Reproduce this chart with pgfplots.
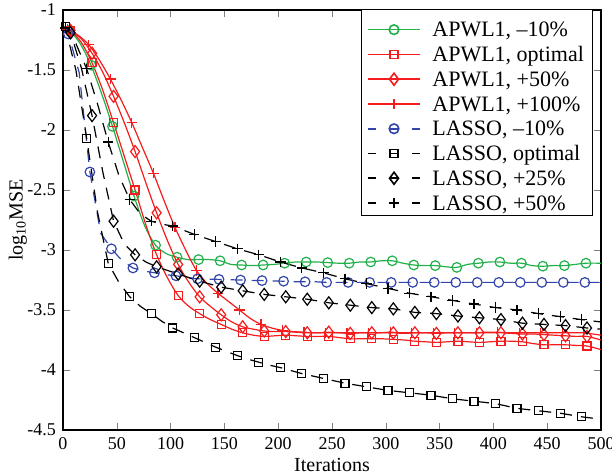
\documentclass[border=0pt]{standalone}
\usepackage{fontspec}
\setmainfont{Liberation Serif}
\usepackage{pgfplots}
\pgfplotsset{compat=1.18}
\usetikzlibrary{calc}
\definecolor{Grn}{HTML}{22B04A}
\definecolor{Rd}{HTML}{F41C1C}
\definecolor{Blu}{HTML}{3344AA}

\begin{document}
\begin{tikzpicture}
  \begin{axis}[
      name=main,
      scale only axis,
      width=269pt,
      height=210pt,
      xmin=0, xmax=500,
      ymin=-4.5, ymax=-1,
      xtick={0,50,...,500},
      ytick={-4.5,-4,-3.5,-3,-2.5,-2,-1.5,-1},
      yticklabels={-4.5,-4,-3.5,-3,-2.5,-2,-1.5,-1},
      /pgf/number format/assume math mode=true,
      tick label style={font=\fontsize{9}{10}\selectfont},
      label style={font=\fontsize{9}{10}\selectfont},
      major tick length=3.5pt,
      axis line style={line width=0.6pt},
      xlabel={Iterations},
      ylabel={log\textsubscript{10}MSE},
      every axis x label/.style={at={(axis description cs:0.5,-0.083)},anchor=center},
      every axis y label/.style={at={(axis description cs:-0.084,0.5)},anchor=center,rotate=90},
      every axis plot/.append style={line width=0.6pt, mark repeat=2, mark phase=2},
    ]
    % APWL1, -10%
    \addplot[color=Grn, smooth, mark=o, mark size=2.4pt] coordinates {
      (0,-1.15) (6,-1.17) (16,-1.28) (26,-1.46) (36,-1.70) (46,-1.97) (56,-2.26) (66,-2.55)
      (76,-2.80) (86,-2.96) (96,-3.03) (106,-3.06) (116,-3.08) (126,-3.08) (136,-3.08)
      (146,-3.09) (156,-3.12) (166,-3.125) (176,-3.13) (186,-3.125) (196,-3.12) (206,-3.11)
      (216,-3.10) (226,-3.10) (236,-3.10) (246,-3.105) (256,-3.11) (266,-3.11) (276,-3.10)
      (286,-3.10) (296,-3.09) (306,-3.09) (316,-3.11) (326,-3.125) (336,-3.13) (346,-3.13)
      (356,-3.14) (366,-3.145) (376,-3.12) (386,-3.11) (396,-3.10) (406,-3.10) (416,-3.11)
      (426,-3.11) (436,-3.13) (446,-3.135) (456,-3.13) (466,-3.13) (476,-3.12) (486,-3.11)
      (500,-3.11)
    };
    % APWL1, optimal
    \addplot[color=Rd, smooth, mark=square, mark size=2pt] coordinates {
      (0,-1.15) (7,-1.17) (17,-1.27) (27,-1.44) (37,-1.67) (47,-1.94) (57,-2.22) (67,-2.50)
      (77,-2.79) (87,-3.04) (97,-3.23) (107,-3.38) (117,-3.47) (127,-3.53) (137,-3.58)
      (147,-3.62) (157,-3.66) (167,-3.69) (177,-3.71) (187,-3.72) (197,-3.715) (207,-3.71)
      (217,-3.715) (227,-3.72) (237,-3.72) (247,-3.72) (257,-3.73) (267,-3.74) (277,-3.74)
      (287,-3.74) (297,-3.74) (307,-3.745) (317,-3.75) (327,-3.76) (337,-3.765) (347,-3.77)
      (357,-3.765) (367,-3.76) (377,-3.765) (387,-3.77) (397,-3.765) (407,-3.76) (417,-3.76)
      (427,-3.765) (437,-3.78) (447,-3.79) (457,-3.79) (467,-3.79) (477,-3.795) (487,-3.80)
      (500,-3.83)
    };
    % APWL1, +50%
    \addplot[color=Rd, smooth, mark=diamond, mark size=3pt] coordinates {
      (0,-1.15) (7,-1.17) (17,-1.24) (27,-1.36) (37,-1.52) (47,-1.72) (57,-1.94) (67,-2.18)
      (77,-2.44) (87,-2.69) (97,-2.92) (107,-3.12) (117,-3.27) (127,-3.39) (137,-3.47)
      (147,-3.54) (157,-3.60) (167,-3.64) (177,-3.66) (187,-3.675) (197,-3.68) (207,-3.68)
      (217,-3.685) (227,-3.69) (237,-3.69) (247,-3.685) (257,-3.69) (267,-3.695) (277,-3.69)
      (287,-3.69) (297,-3.69) (307,-3.69) (317,-3.695) (327,-3.69) (337,-3.69) (347,-3.695)
      (357,-3.69) (367,-3.69) (377,-3.69) (387,-3.69) (397,-3.69) (407,-3.69) (417,-3.695)
      (427,-3.70) (437,-3.70) (447,-3.705) (457,-3.71) (467,-3.715) (477,-3.72) (487,-3.72)
      (500,-3.75)
    };
    % APWL1, +100%
    \addplot[color=Rd, smooth, mark=+, mark size=2.6pt] coordinates {
      (0,-1.15) (4,-1.16) (14,-1.21) (24,-1.29) (34,-1.42) (44,-1.575) (54,-1.75) (64,-1.94)
      (74,-2.15) (84,-2.36) (94,-2.59) (104,-2.81) (114,-3.00) (124,-3.17) (134,-3.28)
      (144,-3.36) (154,-3.43) (164,-3.50) (174,-3.57) (184,-3.62) (194,-3.65) (204,-3.67)
      (214,-3.68) (224,-3.685) (234,-3.69) (244,-3.69) (254,-3.69) (264,-3.69) (274,-3.69)
      (284,-3.69) (294,-3.69) (304,-3.685) (314,-3.69) (324,-3.69) (334,-3.69) (344,-3.69)
      (354,-3.69) (364,-3.69) (374,-3.69) (384,-3.69) (394,-3.685) (404,-3.685) (414,-3.69)
      (424,-3.69) (434,-3.69) (444,-3.69) (454,-3.69) (464,-3.69) (474,-3.69) (484,-3.69)
      (500,-3.71)
    };
    % LASSO, -10%
    \addplot[color=Blu, dash pattern=on 6pt off 4.5pt, mark=o, mark size=2.4pt, mark options={solid}] coordinates {
      (0,-1.15) (5,-1.20) (15,-1.52) (25,-2.35) (35,-2.86) (45,-2.99) (55,-3.09) (65,-3.15)
      (75,-3.175) (85,-3.19) (95,-3.205) (105,-3.215) (115,-3.23) (125,-3.24) (135,-3.243)
      (145,-3.245) (155,-3.248) (165,-3.25) (175,-3.253) (185,-3.255) (195,-3.258) (205,-3.26)
      (215,-3.265) (225,-3.265) (235,-3.265) (245,-3.27) (255,-3.27) (265,-3.27) (275,-3.27)
      (285,-3.27) (295,-3.27) (305,-3.27) (315,-3.27) (325,-3.27) (335,-3.27) (345,-3.27)
      (355,-3.27) (365,-3.27) (375,-3.27) (385,-3.27) (395,-3.27) (405,-3.27) (415,-3.27)
      (425,-3.27) (435,-3.27) (445,-3.27) (455,-3.27) (465,-3.27) (475,-3.27) (485,-3.27)
      (500,-3.27)
    };
    % LASSO, optimal
    \addplot[color=black, dash pattern=on 6pt off 4.5pt, mark=square, mark size=2pt, mark options={solid}] coordinates {
      (0,-1.15) (2,-1.14) (12,-1.50) (22,-2.07) (32,-2.68) (42,-3.11) (52,-3.27) (62,-3.39)
      (72,-3.47) (82,-3.53) (92,-3.595) (102,-3.65) (112,-3.69) (122,-3.73) (132,-3.77)
      (142,-3.81) (152,-3.845) (162,-3.88) (172,-3.91) (182,-3.935) (192,-3.96) (202,-3.98)
      (212,-4.005) (222,-4.03) (232,-4.05) (242,-4.07) (252,-4.09) (262,-4.11) (272,-4.125)
      (282,-4.14) (292,-4.155) (302,-4.17) (312,-4.18) (322,-4.19) (332,-4.20) (342,-4.21)
      (352,-4.225) (362,-4.24) (372,-4.25) (382,-4.26) (392,-4.27) (402,-4.28) (412,-4.30)
      (422,-4.32) (432,-4.33) (442,-4.34) (452,-4.35) (462,-4.36) (472,-4.375) (482,-4.39)
      (500,-4.41)
    };
    % LASSO, +25%
    \addplot[color=black, dash pattern=on 6pt off 4.5pt, mark=diamond, mark size=3pt, mark options={solid}] coordinates {
      (0,-1.15) (7,-1.19) (17,-1.48) (27,-1.88) (37,-2.35) (47,-2.76) (57,-2.95) (67,-3.04)
      (77,-3.10) (87,-3.14) (97,-3.17) (107,-3.20) (117,-3.23) (127,-3.26) (137,-3.285)
      (147,-3.31) (157,-3.325) (167,-3.34) (177,-3.355) (187,-3.37) (197,-3.38) (207,-3.39)
      (217,-3.40) (227,-3.41) (237,-3.425) (247,-3.44) (257,-3.45) (267,-3.46) (277,-3.47)
      (287,-3.48) (297,-3.485) (307,-3.49) (317,-3.505) (327,-3.52) (337,-3.525) (347,-3.53)
      (357,-3.54) (367,-3.55) (377,-3.558) (387,-3.565) (397,-3.572) (407,-3.58) (417,-3.595)
      (427,-3.61) (437,-3.615) (447,-3.62) (457,-3.625) (467,-3.63) (477,-3.64) (487,-3.65)
      (500,-3.66)
    };
    % LASSO, +50%
    \addplot[color=black, dash pattern=on 6pt off 4.5pt, mark=+, mark size=2.6pt, mark options={solid}] coordinates {
      (0,-1.15) (2,-1.15) (12,-1.28) (22,-1.49) (32,-1.78) (42,-2.10) (52,-2.38) (62,-2.58)
      (72,-2.70) (82,-2.76) (92,-2.785) (102,-2.80) (112,-2.835) (122,-2.87) (132,-2.90)
      (142,-2.93) (152,-2.96) (162,-2.99) (172,-3.015) (182,-3.04) (192,-3.07) (202,-3.10)
      (212,-3.125) (222,-3.15) (232,-3.17) (242,-3.19) (252,-3.215) (262,-3.24) (272,-3.26)
      (282,-3.28) (292,-3.30) (302,-3.32) (312,-3.34) (322,-3.36) (332,-3.375) (342,-3.39)
      (352,-3.405) (362,-3.42) (372,-3.435) (382,-3.45) (392,-3.465) (402,-3.48) (412,-3.49)
      (422,-3.50) (432,-3.515) (442,-3.53) (452,-3.543) (462,-3.555) (472,-3.568) (482,-3.58)
      (500,-3.60)
    };
  \end{axis}
  % legend box, drawn as a small axis of its own (units are pt)
  \begin{axis}[
      at={($(main.south west)+(149pt,107pt)$)}, anchor=south west,
      scale only axis, width=115.5pt, height=103pt,
      xmin=0, xmax=115.5, ymin=0, ymax=103,
      xtick=\empty, ytick=\empty, clip=false,
      axis line style={line width=0.5pt},
      axis background/.style={fill=white},
      every axis plot/.append style={line width=0.8pt, mark indices={2}},
      nodes={anchor=base west, inner sep=0pt, font=\fontsize{11}{13}\selectfont},
    ]
    \addplot[color=Grn, mark=o, mark size=2.4pt] coordinates {(3.5,93.15) (16.5,93.15) (29.5,93.15)};
    \addplot[color=Rd, mark=square, mark size=2pt] coordinates {(3.5,80.77) (16.5,80.77) (29.5,80.77)};
    \addplot[color=Rd, mark=diamond, mark size=3pt] coordinates {(3.5,68.39) (16.5,68.39) (29.5,68.39)};
    \addplot[color=Rd, mark=+, mark size=2.6pt] coordinates {(3.5,56.01) (16.5,56.01) (29.5,56.01)};
    \addplot[color=Blu, dash pattern=on 4pt off 7pt, mark=o, mark size=2.4pt, mark options={solid}] coordinates {(3.5,43.63) (16.5,43.63) (29.5,43.63)};
    \addplot[color=black, dash pattern=on 4pt off 7pt, mark=square, mark size=2pt, mark options={solid}] coordinates {(3.5,31.25) (16.5,31.25) (29.5,31.25)};
    \addplot[color=black, dash pattern=on 4pt off 7pt, mark=diamond, mark size=3pt, mark options={solid}] coordinates {(3.5,18.87) (16.5,18.87) (29.5,18.87)};
    \addplot[color=black, dash pattern=on 4pt off 7pt, mark=+, mark size=2.6pt, mark options={solid}] coordinates {(3.5,6.49) (16.5,6.49) (29.5,6.49)};
    \node at (axis cs:35.5,89.55) {APWL1, --10\%};
    \node at (axis cs:35.5,77.17) {APWL1, optimal};
    \node at (axis cs:35.5,64.79) {APWL1, +50\%};
    \node at (axis cs:35.5,52.41) {APWL1, +100\%};
    \node at (axis cs:35.5,40.03) {LASSO, --10\%};
    \node at (axis cs:35.5,27.65) {LASSO, optimal};
    \node at (axis cs:35.5,15.27) {LASSO, +25\%};
    \node at (axis cs:35.5,2.89) {LASSO, +50\%};
  \end{axis}
  \pgfresetboundingbox
  \path ([xshift=-31.5pt,yshift=-22pt]main.south west) rectangle ([xshift=5.5pt,yshift=5pt]main.north east);
\end{tikzpicture}
\end{document}
